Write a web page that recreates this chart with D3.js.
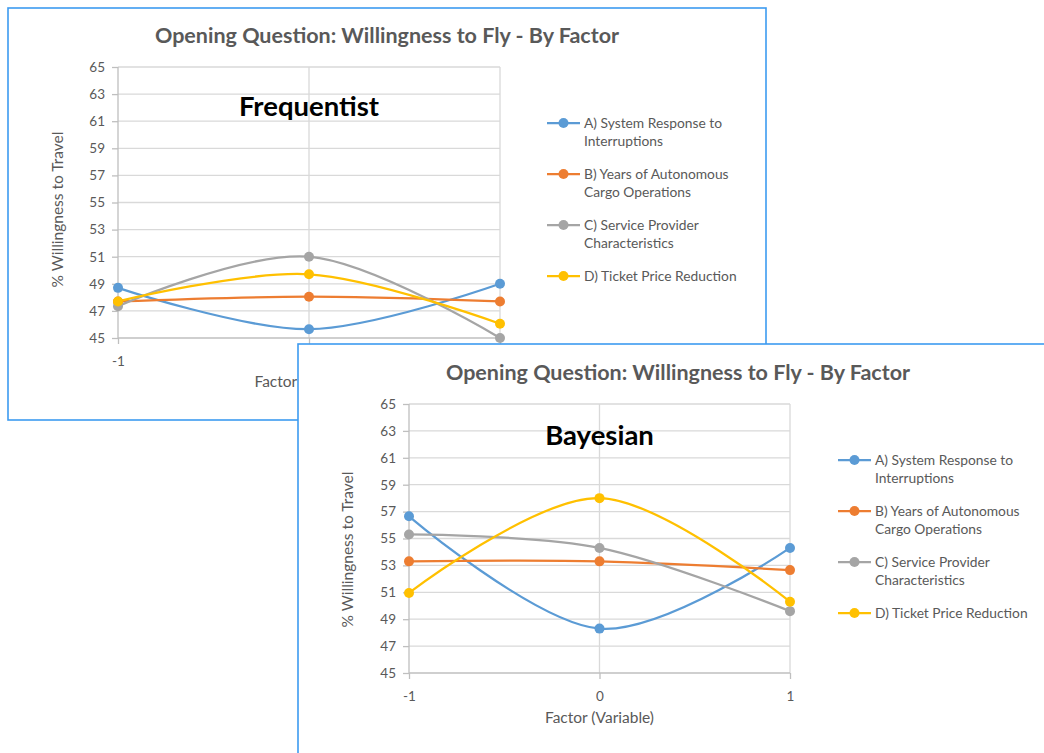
<!DOCTYPE html>
<meta charset="utf-8">
<style>
body { margin: 0; background: #fff; font-family: Lato, "Open Sans", sans-serif; }
svg { display: block; }
.grid line { stroke: #d9d9d9; stroke-width: 1.3px; }
.axis path, .axis line { stroke: #bfbfbf; stroke-width: 1.3px; }
.axis text { fill: #595959; font-size: 13.5px; font-family: Lato, sans-serif; }
.title { fill: #595959; font-weight: bold; font-size: 21.5px; }
.label { fill: #595959; font-size: 15.5px; }
.tag { fill: #000; font-weight: bold; font-size: 27.5px; }
.legend text { fill: #595959; font-size: 13.8px; }
.line { fill: none; stroke-width: 2.25px; }
</style>
<body>
<svg width="1044" height="753"></svg>
<script src="https://cdn.jsdelivr.net/npm/d3@7/dist/d3.min.js"></script>
<script>
var factors = [-1, 0, 1];
var seriesNames = [
  ["A) System Response to", "Interruptions"],
  ["B) Years of Autonomous", "Cargo Operations"],
  ["C) Service Provider", "Characteristics"],
  ["D) Ticket Price Reduction"]
];
var colors = ["#5b9bd5", "#ed7d31", "#a5a5a5", "#ffc000"];
var yTicks = [45, 47, 49, 51, 53, 55, 57, 59, 61, 63, 65];

// Frequentist values at factor -1, 0, 1
var freqA = [48.7, 45.65, 49.0];
var freqB = [47.7, 48.05, 47.7];
var freqC = [47.35, 51.0, 45.0];
var freqD = [47.7, 49.7, 46.05];

// Bayesian values at factor -1, 0, 1
var bayA = [56.65, 48.3, 54.3];
var bayB = [53.3, 53.3, 52.65];
var bayC = [55.3, 54.3, 49.6];
var bayD = [50.95, 58.0, 50.3];

var svg = d3.select("svg");

function panel(opt) {
  var g = svg.append("g").attr("transform", "translate(" + opt.left + "," + opt.top + ")");
  g.append("rect")
    .attr("x", 0).attr("y", 0)
    .attr("width", opt.w).attr("height", opt.h)
    .attr("fill", "#fff")
    .attr("stroke", "#3d9bf0")
    .attr("stroke-width", 1.6);

  var p = opt.plot;
  var x = d3.scaleLinear().domain([-1, 1]).range([p.x0, p.x1]);
  var y = d3.scaleLinear().domain([45, 65]).range([p.y1, p.y0]);

  g.append("text").attr("class", "title")
    .attr("x", opt.titleX).attr("y", opt.titleY)
    .attr("text-anchor", "middle").text("Opening Question: Willingness to Fly - By Factor");

  var grid = g.append("g").attr("class", "grid");
  grid.selectAll(".h").data(yTicks.slice(1)).enter().append("line")
    .attr("x1", p.x0).attr("x2", p.x1)
    .attr("y1", function(d) { return y(d); }).attr("y2", function(d) { return y(d); });
  grid.selectAll(".v").data(factors.slice(1)).enter().append("line")
    .attr("y1", p.y0).attr("y2", p.y1)
    .attr("x1", function(d) { return x(d); }).attr("x2", function(d) { return x(d); });

  g.append("g").attr("class", "axis")
    .attr("transform", "translate(" + p.x0 + ",0)")
    .call(d3.axisLeft(y).tickValues(yTicks).tickSize(6).tickPadding(7).tickSizeOuter(0))
    .call(function(a) { a.select(".domain").remove(); })
    .append("line").attr("y1", p.y0).attr("y2", p.y1).attr("stroke", "#bfbfbf").attr("stroke-width", 1.3);

  g.append("g").attr("class", "axis")
    .attr("transform", "translate(0," + p.y1 + ")")
    .call(d3.axisBottom(x).tickValues(factors).tickSize(6).tickPadding(12).tickSizeOuter(0).tickFormat(d3.format("d")))
    .call(function(a) { a.select(".domain").remove(); a.selectAll("text").text(function(d) { return d < 0 ? "-" + Math.abs(d) : d; }); })
    .append("line").attr("x1", p.x0).attr("x2", p.x1).attr("stroke", "#bfbfbf").attr("stroke-width", 1.3);

  g.append("text").attr("class", "label")
    .attr("transform", "translate(" + opt.yLabX + "," + ((p.y0 + p.y1) / 2 + opt.yLabShift) + ") rotate(-90)")
    .attr("text-anchor", "middle").attr("dy", "0.35em").text("% Willingness to Travel");
  g.append("text").attr("class", "label")
    .attr("x", (p.x0 + p.x1) / 2).attr("y", opt.xLabY)
    .attr("text-anchor", "middle").text("Factor (Variable)");

  g.append("text").attr("class", "tag")
    .attr("x", (p.x0 + p.x1) / 2).attr("y", opt.tagY)
    .attr("text-anchor", "middle").text(opt.tag);

  var line = d3.line()
    .curve(d3.curveCatmullRom.alpha(0))
    .x(function(d, i) { return x(factors[i]); })
    .y(function(d) { return y(d); });

  opt.series.forEach(function(vals, k) {
    g.append("path").attr("class", "line")
      .attr("d", line(vals)).attr("stroke", colors[k]);
  });
  opt.series.forEach(function(vals, k) {
    g.selectAll(null).data(vals).enter().append("circle")
      .attr("cx", function(d, i) { return x(factors[i]); })
      .attr("cy", function(d) { return y(d); })
      .attr("r", 5).attr("fill", colors[k]);
  });

  var leg = g.append("g").attr("class", "legend")
    .attr("transform", "translate(" + opt.legX + "," + opt.legY + ")");
  seriesNames.forEach(function(lines, k) {
    var e = leg.append("g").attr("transform", "translate(0," + (k * 51) + ")");
    e.append("line").attr("x1", 0).attr("x2", 33).attr("y1", 0).attr("y2", 0)
      .attr("stroke", colors[k]).attr("stroke-width", 2.25);
    e.append("circle").attr("cx", 16.5).attr("cy", 0).attr("r", 5).attr("fill", colors[k]);
    lines.forEach(function(t, j) {
      e.append("text").attr("x", 37).attr("y", j * 18).attr("dy", "0.35em").text(t);
    });
  });
}

panel({
  left: 8, top: 8, w: 758, h: 412,
  plot: {x0: 110, x1: 492, y0: 59, y1: 330},
  titleX: 379, titleY: 35,
  yLabX: 50, yLabShift: 7, xLabY: 379, tagY: 108, tag: "Frequentist",
  legX: 539, legY: 115,
  series: [freqA, freqB, freqC, freqD]
});

panel({
  left: 298, top: 344, w: 760, h: 420,
  plot: {x0: 111, x1: 492, y0: 60, y1: 329},
  titleX: 380, titleY: 36,
  yLabX: 50, yLabShift: 11, xLabY: 379, tagY: 101, tag: "Bayesian",
  legX: 540, legY: 116,
  series: [bayA, bayB, bayC, bayD]
});
</script>
</body>
